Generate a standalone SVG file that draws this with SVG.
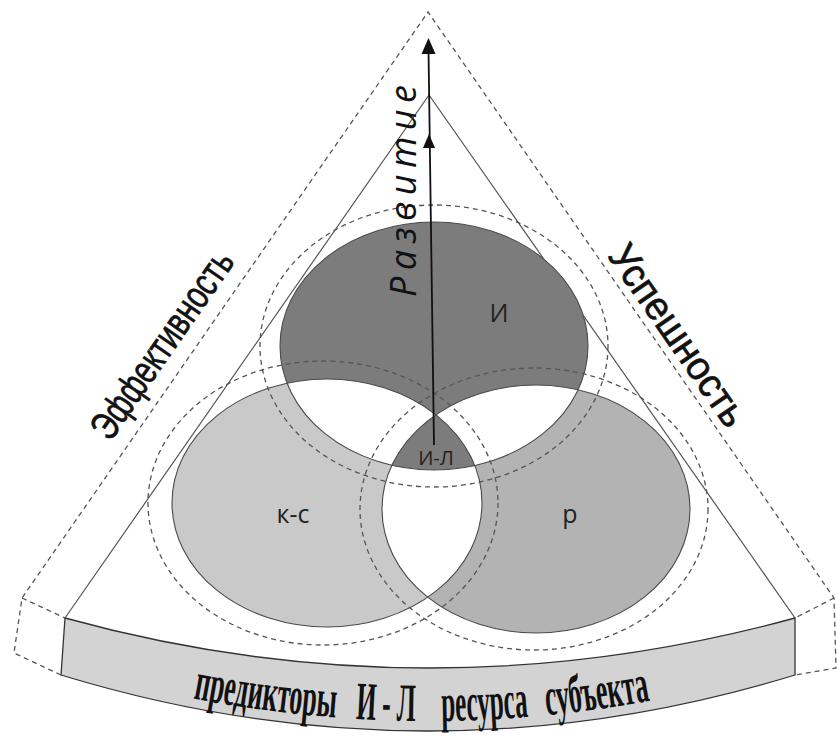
<svg xmlns="http://www.w3.org/2000/svg" width="837" height="736" viewBox="0 0 837 736">
<style>
.dash{fill:none;stroke:#555;stroke-width:1.3;stroke-dasharray:5 4}
.solid{fill:none;stroke:#555;stroke-width:1.2}
.outl{fill:none;stroke:#4a4a4a;stroke-width:1.1}
.lbl{font-family:"Open Sans","Liberation Sans",sans-serif;fill:#222;text-anchor:middle}
.side{font-family:"Liberation Sans Narrow","Liberation Sans",sans-serif;fill:#111;stroke:#111;stroke-width:0.7;text-anchor:middle;font-size:40px}
.band{font-family:"Liberation Serif",serif;font-weight:bold;font-size:54px;fill:#111}
</style>
<defs>
<clipPath id="c1"><ellipse cx="434" cy="346" rx="154" ry="124"/></clipPath>
<clipPath id="c2"><ellipse cx="327" cy="503" rx="155" ry="124"/></clipPath>
<clipPath id="c3"><ellipse cx="536" cy="509" rx="154" ry="124"/></clipPath>
<path id="bp" d="M61,666 Q428,776 795,666"/>
</defs>
<rect width="837" height="736" fill="#fff"/>
<g id="frame">
<polyline class="dash" points="61,675 14,653 22,598 428,12 834,598 836,668 795,675"/>
<line class="dash" x1="22" y1="598" x2="65" y2="618"/>
<line class="dash" x1="834" y1="598" x2="795" y2="618"/>
<polyline class="solid" points="65,618 429,95 795,618"/>
</g>
<g id="base">
<path d="M65,618 Q428,718 795,618 L795,675 Q428,787 61,675 Z" fill="#d3d3d3" stroke="#333" stroke-width="1.3"/>
<text class="band"><textPath href="#bp" startOffset="136" textLength="144" lengthAdjust="spacingAndGlyphs">предикторы</textPath></text>
<text class="band"><textPath href="#bp" startOffset="300" textLength="60" lengthAdjust="spacingAndGlyphs">И - Л</textPath></text>
<text class="band"><textPath href="#bp" startOffset="386" textLength="87" lengthAdjust="spacingAndGlyphs">ресурса</textPath></text>
<text class="band"><textPath href="#bp" startOffset="491" textLength="105" lengthAdjust="spacingAndGlyphs">субъекта</textPath></text>
</g>
<g id="node-ks"><ellipse cx="327" cy="503" rx="155" ry="124" fill="#c9c9c9"/></g>
<g id="node-r"><ellipse cx="536" cy="509" rx="154" ry="124" fill="#b3b3b3"/></g>
<g id="node-i"><ellipse cx="434" cy="346" rx="154" ry="124" fill="#7c7c7c"/></g>
<g id="overlaps">
<g clip-path="url(#c1)"><ellipse cx="327" cy="503" rx="155" ry="124" fill="#fff"/><ellipse cx="536" cy="509" rx="154" ry="124" fill="#fff"/></g>
<g clip-path="url(#c2)"><ellipse cx="536" cy="509" rx="154" ry="124" fill="#fff"/></g>
</g>
<g id="node-il"><g clip-path="url(#c2)"><g clip-path="url(#c3)"><ellipse cx="434" cy="346" rx="154" ry="124" fill="#7c7c7c"/></g></g></g>
<g id="outlines">
<ellipse class="outl" cx="327" cy="503" rx="155" ry="124"/>
<ellipse class="outl" cx="536" cy="509" rx="154" ry="124"/>
<ellipse class="outl" cx="434" cy="346" rx="154" ry="124"/>
<ellipse class="dash" cx="434" cy="346" rx="174" ry="141"/>
<ellipse class="dash" cx="323" cy="503" rx="175" ry="142"/>
<ellipse class="dash" cx="534" cy="509" rx="174" ry="141"/>
</g>
<g id="labels">
<text class="lbl" x="499" y="322" font-size="25">И</text>
<text class="lbl" x="436" y="465" font-size="20">И-Л</text>
<text class="lbl" x="293" y="523" font-size="25">к-с</text>
<text class="lbl" x="570" y="523" font-size="25">р</text>
<text class="side" x="173" y="352" transform="rotate(-55.3 173 352)" textLength="220" lengthAdjust="spacingAndGlyphs">Эффективность</text>
<text class="side" x="667" y="343" transform="rotate(55.3 667 343)" textLength="212" lengthAdjust="spacingAndGlyphs">Успешность</text>
<text x="416" y="191" transform="rotate(-90 416 191)" text-anchor="middle" font-family="Open Sans, Liberation Sans, sans-serif" font-style="italic" font-size="36" fill="#111" textLength="212" lengthAdjust="spacing">Развитие</text>
</g>
<g id="connectors">
<line x1="434" y1="445" x2="428.5" y2="50" stroke="#111" stroke-width="1.8"/>
<polygon points="428.5,38 421.5,54 435.5,54" fill="#111"/>
<polygon points="429,134 423,148 435,148" fill="#111"/>
</g>
</svg>
